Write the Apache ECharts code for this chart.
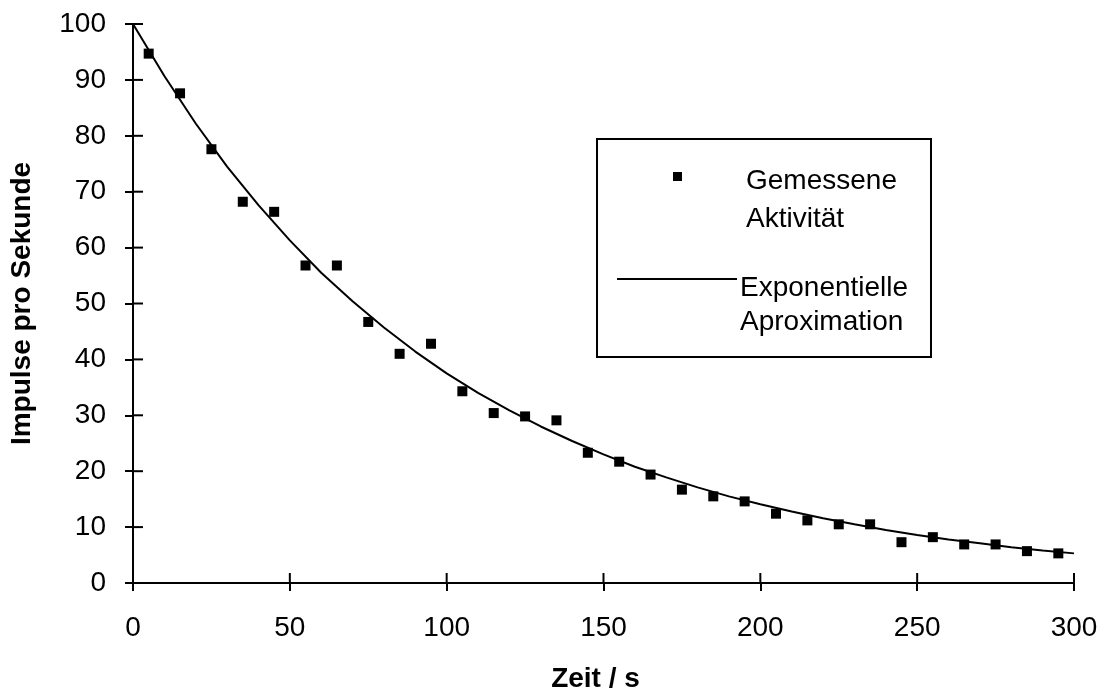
<!DOCTYPE html>
<html>
<head>
<meta charset="utf-8">
<script src="https://cdn.jsdelivr.net/npm/echarts@6/dist/echarts.min.js"></script>
<style>html,body{margin:0;padding:0;background:#fff}#c{width:1103px;height:698px}</style>
</head>
<body>
<div id="c"></div>
<script>
// Measured activity (time in s, pulses per second)
var measuredTime = [5,15,25,35,45,55,65,75,85,95,105,115,125,135,145,155,165,175,185,195,205,215,225,235,245,255,265,275,285,295];
var measuredRate = [94.7,87.6,77.6,68.2,66.4,56.8,56.8,46.7,41.0,42.8,34.3,30.4,29.8,29.1,23.3,21.7,19.4,16.7,15.5,14.6,12.4,11.2,10.5,10.5,7.3,8.2,6.9,6.9,5.7,5.3];
// Exponential approximation curve
var fitTime = [0,10,20,30,40,50,60,70,80,90,100,110,120,130,140,150,160,170,180,190,200,210,220,230,240,250,260,270,280,290,300];
var fitRate = [100,90.7,82.2,74.5,67.6,61.3,55.5,50.4,45.7,41.4,37.5,34.0,30.9,28.0,25.4,23.0,20.8,18.9,17.1,15.5,14.1,12.8,11.6,10.5,9.5,8.6,7.8,7.1,6.4,5.8,5.3];
// Tick values
var xTickValues = [0,50,100,150,200,250,300];
var yTickValues = [0,10,20,30,40,50,60,70,80,90,100];
var xTitle = 'Zeit / s';
var yTitle = 'Impulse pro Sekunde';
var legendNames = ['Gemessene\nAktivität', 'Exponentielle\nAproximation'];

var FONT = '"Liberation Sans", Arial, sans-serif';
var chart = echarts.init(document.getElementById('c'), null, {renderer: 'canvas'});
var axisLineStyle = {color: '#000', width: 2};
var xMin = xTickValues[0], xMax = xTickValues[xTickValues.length - 1];
var yMin = yTickValues[0], yMax = yTickValues[yTickValues.length - 1];
var INNER = 10;

function pairs(xs, ys) { return xs.map(function (x, i) { return [x, ys[i]]; }); }

var option = {
  backgroundColor: '#fff',
  animation: false,
  grid: {left: 133, right: 29, top: 24, bottom: 111, containLabel: false},
  xAxis: {
    type: 'value', min: xMin, max: xMax, interval: xTickValues[1] - xTickValues[0],
    axisLine: {show: true, onZero: false, lineStyle: axisLineStyle},
    axisTick: {show: true, inside: false, length: 8, lineStyle: axisLineStyle},
    axisLabel: {show: true, margin: 31, color: '#000', fontSize: 28, fontFamily: FONT},
    splitLine: {show: false},
    name: xTitle, nameLocation: 'middle', nameGap: 82,
    nameTextStyle: {color: '#000', fontSize: 28, fontWeight: 'bold', fontFamily: FONT, padding: [0, 16, 0, 0]}
  },
  yAxis: {
    type: 'value', min: yMin, max: yMax, interval: yTickValues[1] - yTickValues[0],
    axisLine: {show: true, onZero: false, lineStyle: axisLineStyle},
    axisTick: {show: true, inside: false, length: 8, lineStyle: axisLineStyle},
    axisLabel: {show: true, margin: 27, color: '#000', fontSize: 28, fontFamily: FONT},
    splitLine: {show: false},
    name: yTitle, nameLocation: 'middle', nameGap: 97, nameRotate: 90,
    nameTextStyle: {color: '#000', fontSize: 28, fontWeight: 'bold', fontFamily: FONT}
  },
  series: [
    {
      name: legendNames[1], type: 'line',
      data: pairs(fitTime, fitRate), showSymbol: false, symbol: 'none', smooth: false,
      lineStyle: {color: '#000', width: 2}, z: 2
    },
    {
      name: legendNames[0], type: 'scatter',
      data: pairs(measuredTime, measuredRate), symbol: 'rect', symbolSize: 10,
      itemStyle: {color: '#000', opacity: 1}, z: 3
    },
    {
      // inner halves of the crossing x-axis ticks
      type: 'custom', silent: true, clip: false, z: 4,
      data: xTickValues.map(function (v) { return [v, yMin]; }),
      encode: {x: 0, y: 1}, renderItem: function (params, api) {
        var p = api.coord([api.value(0), yMin]);
        return {type: 'line', shape: {x1: p[0], y1: p[1], x2: p[0], y2: p[1] - INNER}, style: {stroke: '#000', lineWidth: 2}};
      }
    },
    {
      // inner halves of the crossing y-axis ticks
      type: 'custom', silent: true, clip: false, z: 4,
      data: yTickValues.map(function (v) { return [xMin, v]; }),
      encode: {x: 0, y: 1}, renderItem: function (params, api) {
        var p = api.coord([xMin, api.value(1)]);
        return {type: 'line', shape: {x1: p[0], y1: p[1], x2: p[0] + INNER, y2: p[1]}, style: {stroke: '#000', lineWidth: 2}};
      }
    }
  ],
  graphic: [
    {type: 'rect', shape: {x: 597, y: 139, width: 334, height: 218},
     style: {fill: '#fff', stroke: '#000', lineWidth: 2}, z: 10},
    {type: 'rect', shape: {x: 673, y: 172, width: 9, height: 9}, style: {fill: '#000'}, z: 11},
    {type: 'line', shape: {x1: 617, y1: 279, x2: 737, y2: 279}, style: {stroke: '#000', lineWidth: 2}, z: 11},
    {type: 'text', x: 746, y: 181, z: 11,
     style: {text: legendNames[0].split('\n')[0], fill: '#000', font: '28px ' + FONT, textAlign: 'left', textVerticalAlign: 'middle'}},
    {type: 'text', x: 746, y: 219, z: 11,
     style: {text: legendNames[0].split('\n')[1], fill: '#000', font: '28px ' + FONT, textAlign: 'left', textVerticalAlign: 'middle'}},
    {type: 'text', x: 740, y: 288, z: 11,
     style: {text: legendNames[1].split('\n')[0], fill: '#000', font: '28px ' + FONT, textAlign: 'left', textVerticalAlign: 'middle'}},
    {type: 'text', x: 740, y: 322, z: 11,
     style: {text: legendNames[1].split('\n')[1], fill: '#000', font: '28px ' + FONT, textAlign: 'left', textVerticalAlign: 'middle'}}
  ]
};
chart.setOption(option);
</script>
</body>
</html>
